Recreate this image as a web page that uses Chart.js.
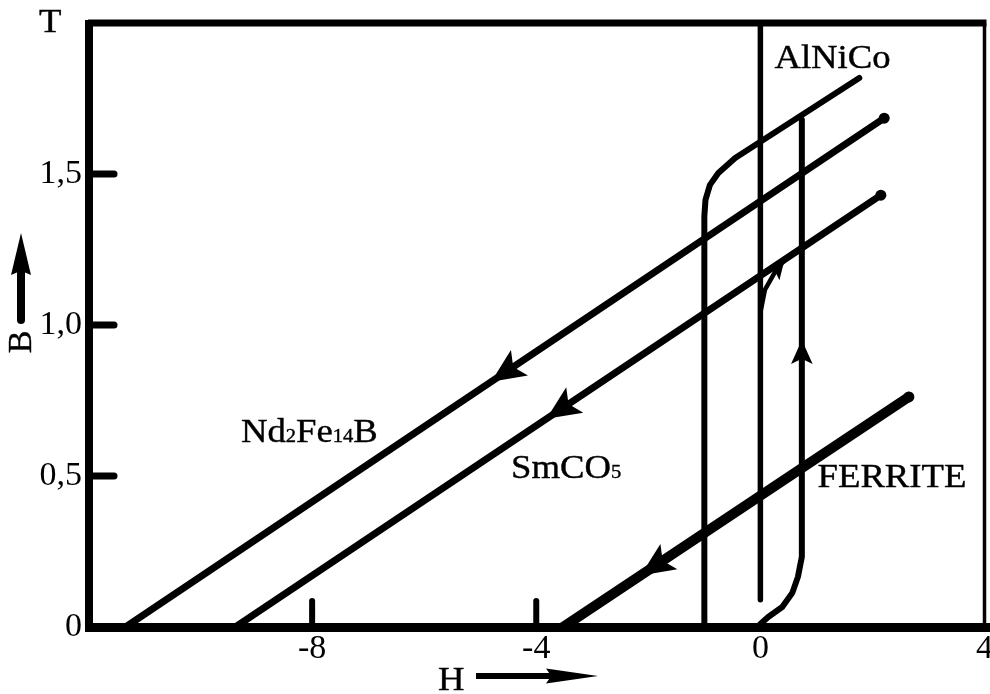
<!DOCTYPE html>
<html>
<head>
<meta charset="UTF-8">
<title>Courbes B(H) - aimants</title>
<script src="https://cdn.jsdelivr.net/npm/chart.js"></script>
<style>
    html, body { margin: 0; padding: 0; background: #fff; }
    #cadre { width: 990px; height: 694px; position: relative; }
</style>
</head>
<body>
<div id="cadre"><canvas id="courbes"></canvas></div>
<script>
// valeurs : H (kA/cm) et B (T)
const ndH = [-11.33, 2.21];
const ndB = [0, 1.685];
const smH = [-9.37, 2.15];
const smB = [0, 1.43];
const ferH = [-3.52, 2.65];
const ferB = [0, 0.762];
const alH = [1.765, -0.45, -0.75, -0.90, -0.98, -1.0, -1.0];
const alB = [1.818, 1.553, 1.503, 1.464, 1.414, 1.36, 0];
const alRetH = [0, 0.14, 0.39, 0.57, 0.67, 0.74, 0.74];
const alRetB = [0.01, 0.033, 0.066, 0.113, 0.166, 0.232, 1.68];
const axeH = [0, 0];
const axeB = [2.0, 0.09];
const initH = [0, 0.08, 0.26, 0.43];
const initB = [1.04, 1.116, 1.175, 1.215];

const xTicks = [-8, -4, 0, 4];
const xTickLabels = ['-8', '-4', '0', '4'];
const yTicks = [0, 0.5, 1, 1.5];
const yTickLabels = ['0', '0,5', '1,0', '1,5'];
const xMarks = [-8, -4];
const yMarks = [0.5, 1, 1.5];

// fleches : courbe, segment, position sur le segment, sens
const arrowSeries = [0, 1, 2, 4, 6];
const arrowSegment = [0, 0, 0, 5, 2];
const arrowAt = [0.482, 0.482, 0.224, 0.496, 1.0];
const arrowForward = [false, false, false, true, true];
const arrowSize = [34, 34, 34, 24, 19];

const POLICE = "'Liberation Serif', 'DejaVu Serif', serif";

function pts(hs, bs) {
    return hs.map(function (h, i) { return { x: h, y: bs[i] }; });
}

function serie(hs, bs, largeur, finPoint) {
    const rayons = hs.map(function (h, i) { return (finPoint && i === hs.length - 1) ? 5.5 : 0; });
    return {
        data: pts(hs, bs),
        showLine: true,
        borderColor: '#000',
        backgroundColor: '#000',
        borderWidth: largeur,
        borderCapStyle: 'round',
        borderJoinStyle: 'round',
        pointRadius: rayons,
        pointBorderWidth: 0,
        pointBackgroundColor: '#000',
        tension: 0
    };
}

function fleche(ctx, x, y, ang, len, wid, creux) {
    ctx.save();
    ctx.translate(x, y);
    ctx.rotate(ang);
    ctx.beginPath();
    ctx.moveTo(0, 0);
    ctx.lineTo(-len, -wid / 2);
    ctx.lineTo(-len * creux, 0);
    ctx.lineTo(-len, wid / 2);
    ctx.closePath();
    ctx.fill();
    ctx.restore();
}

function texte(ctx, morceaux, x, y) {
    // morceaux : [texte, taille]
    ctx.save();
    ctx.translate(x, y);
    ctx.scale(1.08, 1);
    ctx.lineWidth = 0.4;
    let cx = 0;
    morceaux.forEach(function (m) {
        ctx.font = m[1] + 'px ' + POLICE;
        ctx.fillText(m[0], cx, 0);
        ctx.strokeText(m[0], cx, 0);
        cx += ctx.measureText(m[0]).width;
    });
    ctx.restore();
}

const decor = {
    id: 'decor',
    afterDatasetsDraw: function (chart) {
        const ctx = chart.ctx;
        const a = chart.chartArea;
        const sx = chart.scales.x;
        const sy = chart.scales.y;
        ctx.save();
        ctx.strokeStyle = '#000';
        ctx.fillStyle = '#000';

        // cadre
        ctx.lineCap = 'butt';
        ctx.lineWidth = 8;
        ctx.beginPath(); ctx.moveTo(a.left + 1, a.top - 3); ctx.lineTo(a.left + 1, a.bottom + 4); ctx.stroke();
        ctx.lineWidth = 9;
        ctx.beginPath(); ctx.moveTo(a.left - 3, a.bottom + 0.5); ctx.lineTo(a.right + 6, a.bottom + 0.5); ctx.stroke();
        ctx.lineWidth = 7;
        ctx.beginPath(); ctx.moveTo(a.left, a.top); ctx.lineTo(a.right + 2, a.top); ctx.stroke();
        ctx.lineWidth = 3.5;
        ctx.beginPath(); ctx.moveTo(a.right, a.top); ctx.lineTo(a.right, a.bottom); ctx.stroke();

        // graduations
        ctx.lineCap = 'round';
        ctx.lineWidth = 7;
        yMarks.forEach(function (v) {
            const py = sy.getPixelForValue(v);
            ctx.beginPath(); ctx.moveTo(a.left + 4, py); ctx.lineTo(a.left + 26, py); ctx.stroke();
        });
        ctx.lineWidth = 6;
        xMarks.forEach(function (v) {
            const px = sx.getPixelForValue(v);
            ctx.beginPath(); ctx.moveTo(px, a.bottom); ctx.lineTo(px, a.bottom - 26); ctx.stroke();
        });

        // fleches sur les courbes
        arrowSeries.forEach(function (s, i) {
            const d = chart.data.datasets[s].data;
            const k = arrowSegment[i];
            const x0 = sx.getPixelForValue(d[k].x), y0 = sy.getPixelForValue(d[k].y);
            const x1 = sx.getPixelForValue(d[k + 1].x), y1 = sy.getPixelForValue(d[k + 1].y);
            const t = arrowAt[i];
            const px = x0 + (x1 - x0) * t, py = y0 + (y1 - y0) * t;
            const ang = arrowForward[i] ? Math.atan2(y1 - y0, x1 - x0) : Math.atan2(y0 - y1, x0 - x1);
            fleche(ctx, px, py, ang, arrowSize[i], arrowSize[i] * 0.9, 0.78);
        });

        // noms des materiaux
        ctx.textBaseline = 'alphabetic';
        ctx.textAlign = 'left';
        texte(ctx, [['AlNiCo', 34]], sx.getPixelForValue(0.25), sy.getPixelForValue(1.851));
        texte(ctx, [['Nd', 34], ['2', 19], ['Fe', 34], ['14', 19], ['B', 34]], sx.getPixelForValue(-9.27), sy.getPixelForValue(0.613));
        texte(ctx, [['SmCO', 34], ['5', 19]], sx.getPixelForValue(-4.45), sy.getPixelForValue(0.493));
        texte(ctx, [['FERRITE', 34]], sx.getPixelForValue(1.02), sy.getPixelForValue(0.464));

        // titres des axes
        texte(ctx, [['T', 34]], 39, 32);
        texte(ctx, [['H', 34]], 438, 690);
        ctx.lineCap = 'butt';
        ctx.lineWidth = 6;
        ctx.beginPath(); ctx.moveTo(476, 676); ctx.lineTo(560, 676); ctx.stroke();
        fleche(ctx, 598, 676, 0, 52, 15, 0.9);

        ctx.save();
        ctx.translate(22, 342);
        ctx.rotate(-Math.PI / 2);
        ctx.font = '34px ' + POLICE;
        ctx.textAlign = 'center';
        ctx.textBaseline = 'middle';
        ctx.lineWidth = 0.4;
        ctx.fillText('B', 0, 0);
        ctx.strokeText('B', 0, 0);
        ctx.restore();
        ctx.lineCap = 'round';
        ctx.lineWidth = 8;
        ctx.beginPath(); ctx.moveTo(21, 320); ctx.lineTo(21, 262); ctx.stroke();
        fleche(ctx, 21, 233, -Math.PI / 2, 42, 20, 0.9);

        ctx.restore();
    }
};

const ctx = document.getElementById('courbes').getContext('2d');
const chart = new Chart(ctx, {
    type: 'scatter',
    data: {
        datasets: [
            serie(ndH, ndB, 7, true),
            serie(smH, smB, 7, true),
            serie(ferH, ferB, 10, true),
            serie(alH, alB, 6, false),
            serie(alRetH, alRetB, 6, false),
            serie(axeH, axeB, 5.5, false),
            serie(initH, initB, 4.5, false)
        ]
    },
    options: {
        responsive: true,
        maintainAspectRatio: false,
        animation: false,
        events: [],
        layout: { padding: { top: 23, right: 0, bottom: 0, left: 0 } },
        plugins: {
            legend: { display: false },
            tooltip: { enabled: false }
        },
        scales: {
            x: {
                type: 'linear',
                min: -12,
                max: 4,
                grid: { display: false, drawTicks: false },
                border: { display: false },
                afterBuildTicks: function (s) {
                    s.ticks = xTicks.map(function (v) { return { value: v }; });
                },
                afterFit: function (s) {
                    s.height = 67;
                    s.paddingLeft = 0;
                    s.paddingRight = 0;
                },
                ticks: {
                    autoSkip: false,
                    maxRotation: 0,
                    padding: 2,
                    color: '#000',
                    font: { family: POLICE, size: 34 },
                    callback: function (v, i) { return xTickLabels[i]; }
                }
            },
            y: {
                type: 'linear',
                min: 0,
                max: 2,
                grid: { display: false, drawTicks: false },
                border: { display: false },
                afterBuildTicks: function (s) {
                    s.ticks = yTicks.map(function (v) { return { value: v }; });
                },
                afterFit: function (s) {
                    s.width = 88;
                    s.paddingTop = 0;
                    s.paddingBottom = 0;
                },
                ticks: {
                    autoSkip: false,
                    padding: 6,
                    color: '#000',
                    font: { family: POLICE, size: 34 },
                    callback: function (v, i) { return yTickLabels[i]; }
                }
            }
        }
    },
    plugins: [decor]
});
</script>
</body>
</html>
